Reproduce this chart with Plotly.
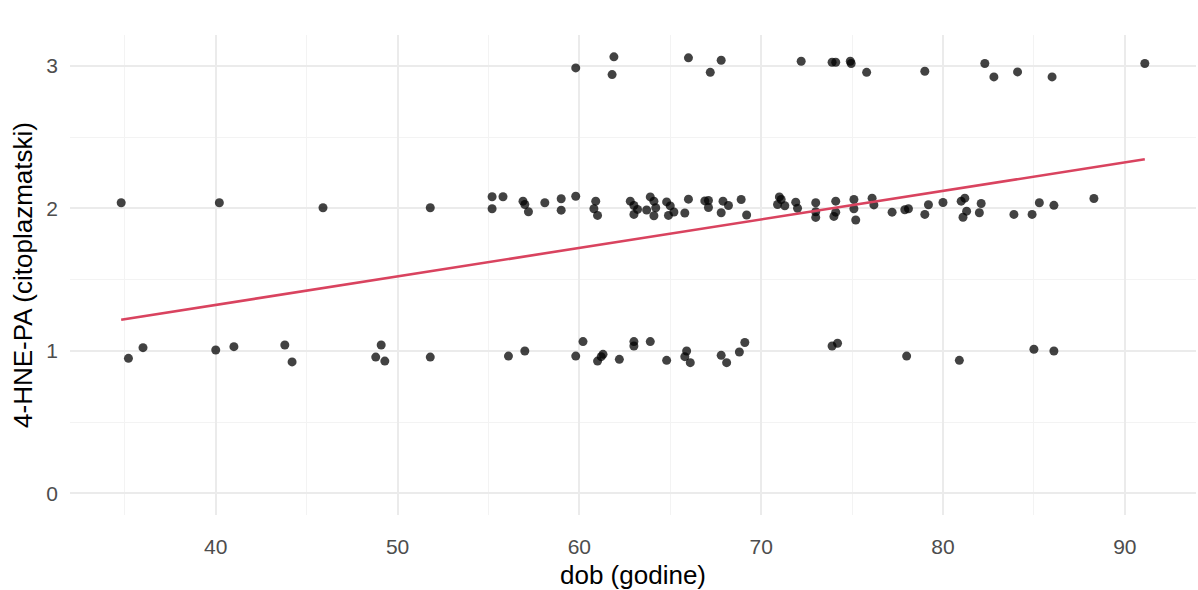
import numpy as np
import plotly.graph_objects as go

score3_age = [59.8, 61.9, 61.8, 66.0, 67.8, 67.2, 72.2, 73.9, 74.1, 74.9, 74.95, 75.8,
              79.0, 82.3, 82.8, 84.1, 86.0, 91.1]
score3_val = [2.987, 3.065, 2.940, 3.058, 3.041, 2.956, 3.034, 3.027, 3.027, 3.034, 3.018, 2.956,
              2.964, 3.018, 2.924, 2.959, 2.924, 3.018]

score2_age = [34.8, 40.2, 45.9, 51.8, 55.2, 55.8, 55.2, 56.9, 57.0, 57.2, 58.1, 59.0, 59.0, 59.8,
              60.9, 60.8, 61.0, 62.8, 63.0, 63.2, 63.0, 63.7, 63.9, 64.1, 64.2, 64.1, 64.8, 65.0,
              65.2, 64.9, 65.8, 66.0, 66.9, 67.1, 67.1, 67.9, 67.8, 68.2, 68.9, 69.2, 71.0, 71.1,
              70.9, 71.3, 71.9, 72.0, 73.0, 73.0, 73.0, 74.1, 74.1, 74.0, 75.1, 75.1, 75.2, 76.1,
              76.2, 77.2, 77.9, 78.1, 79.2, 79.0, 80.0, 81.0, 81.2, 81.3, 81.1, 82.1, 82.0, 83.9,
              84.9, 85.3, 86.1, 88.3]
score2_val = [2.040, 2.040, 2.005, 2.005, 2.082, 2.082, 1.998, 2.051, 2.028, 1.977, 2.040, 2.068,
              1.988, 2.086, 2.051, 1.998, 1.951, 2.051, 2.021, 1.993, 1.958, 1.989, 2.081, 2.051,
              2.005, 1.949, 2.046, 2.018, 1.975, 1.951, 1.968, 2.065, 2.053, 2.056, 2.007, 2.051,
              1.970, 2.021, 2.063, 1.954, 2.081, 2.063, 2.028, 2.019, 2.044, 2.001, 2.040, 1.977,
              1.937, 2.051, 1.974, 1.944, 2.063, 1.998, 1.919, 2.072, 2.025, 1.974, 1.991, 1.998,
              2.026, 1.958, 2.042, 2.051, 2.072, 1.981, 1.938, 2.035, 1.970, 1.958, 1.958, 2.040,
              2.022, 2.070]

score1_age = [35.2, 36.0, 40.0, 41.0, 43.8, 44.2, 48.8, 49.1, 49.3, 51.8, 56.1, 57.0, 59.8, 60.2,
              61.0, 61.2, 61.3, 62.2, 63.0, 63.0, 63.9, 64.8, 65.9, 65.8, 66.1, 67.8, 68.1, 68.8,
              69.1, 73.9, 74.2, 78.0, 80.9, 85.0, 86.1]
score1_val = [0.947, 1.022, 1.006, 1.029, 1.041, 0.922, 0.956, 1.041, 0.928, 0.956, 0.963, 0.999,
              0.963, 1.065, 0.928, 0.959, 0.975, 0.940, 1.065, 1.034, 1.065, 0.933, 0.999, 0.959,
              0.917, 0.968, 0.917, 0.992, 1.058, 1.034, 1.053, 0.963, 0.933, 1.011, 0.999]

x_ticks = [40, 50, 60, 70, 80, 90]
y_ticks = [0, 1, 2, 3]

ages = np.array(score1_age + score2_age + score3_age)
vals = np.array(score1_val + score2_val + score3_val)

# linear fit (geom_smooth, method = lm) on the underlying integer scores
slope, intercept = np.polyfit(ages, np.round(vals), 1)
fit_x = np.array([ages.min(), ages.max()])
fit_y = intercept + slope * fit_x

fig = go.Figure()
fig.add_trace(go.Scatter(
    x=ages, y=vals, mode="markers",
    marker=dict(size=9, color="rgba(0,0,0,0.74)", line=dict(width=0)),
    showlegend=False, hoverinfo="x+y"))
fig.add_trace(go.Scatter(
    x=fit_x, y=fit_y, mode="lines",
    line=dict(color="#D9435F", width=2.6),
    showlegend=False))

xmin, xmax = ages.min(), ages.max()
xpad = (xmax - xmin) * 0.05
ymin, ymax = 0.0, vals.max()
ypad = (ymax - ymin) * 0.05

grid_major = "#EBEBEB"
grid_minor = "#F3F3F3"
fig.update_layout(
    width=1198, height=590,
    margin=dict(l=70, r=2, t=35, b=75),
    paper_bgcolor="white", plot_bgcolor="white",
    font=dict(family="Liberation Sans, Arial, sans-serif"),
    xaxis=dict(
        range=[xmin - xpad, xmax + xpad],
        tickvals=x_ticks, ticktext=[str(t) for t in x_ticks],
        showgrid=True, gridcolor=grid_major, gridwidth=2,
        minor=dict(dtick=5, tick0=0, showgrid=True, gridcolor=grid_minor, gridwidth=1),
        zeroline=False, showline=False, ticks="",
        tickfont=dict(size=21, color="#4D4D4D"),
        ticklabelstandoff=17,
        title=dict(text="dob (godine)", font=dict(size=26, color="black"), standoff=8),
    ),
    yaxis=dict(
        range=[ymin - ypad, ymax + ypad],
        tickvals=y_ticks, ticktext=[str(t) for t in y_ticks],
        showgrid=True, gridcolor=grid_major, gridwidth=2,
        minor=dict(dtick=0.5, tick0=0, showgrid=True, gridcolor=grid_minor, gridwidth=1),
        zeroline=False, showline=False, ticks="",
        tickfont=dict(size=21, color="#4D4D4D"),
        ticklabelstandoff=11,
        title=dict(text="4-HNE-PA (citoplazmatski)", font=dict(size=26, color="black"), standoff=6),
    ),
)

fig.write_html("out.html")
